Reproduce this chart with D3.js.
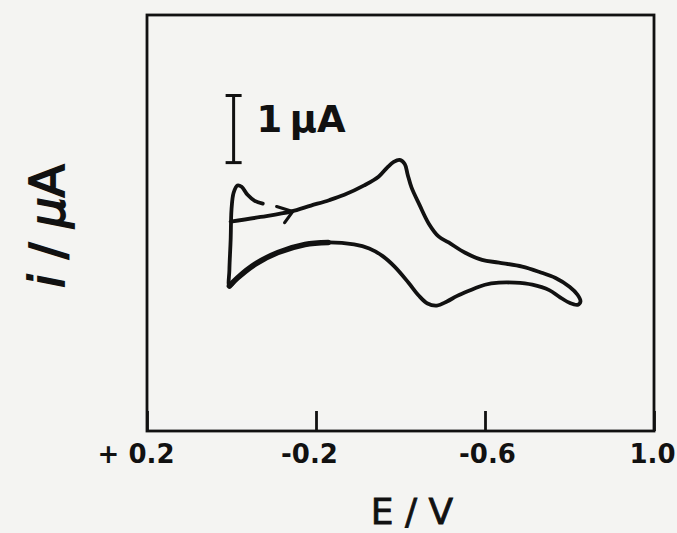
<!DOCTYPE html>
<html>
<head>
<meta charset="utf-8">
<script src="https://cdn.jsdelivr.net/npm/d3@7"></script>
<style>
  html, body { margin: 0; padding: 0; background: #f4f4f2; }
  svg { display: block; }
</style>
</head>
<body>
<div id="chart"></div>
<script>
// potential (V) and current (uA, offset arbitrary)
const potential = [
  0.002, -0.069, -0.140, -0.188, -0.231, -0.267, -0.314, -0.348, -0.369, -0.384,
  -0.398, -0.410, -0.417, -0.426, -0.445, -0.467, -0.490, -0.514, -0.552, -0.593,
  -0.633, -0.688, -0.729, -0.767, -0.800, -0.819, -0.826, -0.819, -0.800, -0.776,
  -0.752, -0.712, -0.671, -0.633, -0.600, -0.562, -0.533, -0.510, -0.486, -0.464,
  -0.443, -0.419, -0.386, -0.357, -0.326, -0.290, -0.229, -0.174, -0.110, -0.057,
  -0.014, 0.005, 0.005, 0.002, 0.000, -0.005, -0.014, -0.024, -0.038, -0.055, -0.074
];
const current = [
  3.12, 3.19, 3.27, 3.36, 3.44, 3.52, 3.66, 3.79, 3.93, 4.01,
  4.04, 3.98, 3.82, 3.63, 3.37, 3.09, 2.90, 2.81, 2.66, 2.55,
  2.51, 2.45, 2.37, 2.28, 2.15, 2.03, 1.93, 1.88, 1.91, 2.00,
  2.10, 2.18, 2.21, 2.21, 2.18, 2.09, 2.01, 1.93, 1.87, 1.90,
  2.02, 2.21, 2.45, 2.61, 2.72, 2.78, 2.81, 2.78, 2.66, 2.49,
  2.28, 2.16, 2.40, 2.85, 3.30, 3.55, 3.66, 3.64, 3.52, 3.43, 3.39
];
const tickValues = [0.2, -0.2, -0.6, -1.0];
const tickLabels = ["+ 0.2", "-0.2", "-0.6", "1.0"];
const xDomain = [0.2, -1.0];
const yDomain = [0, 6.2];
const scaleBar = { E: -0.005, from: 4.0, to: 5.0, label: "1\u2009\u03BCA" };

const W = 677, H = 533;
const ink = "#111";
const font = "'DejaVu Sans', sans-serif";

const svg = d3.select("#chart").append("svg")
  .attr("width", W).attr("height", H);

svg.append("rect").attr("width", W).attr("height", H).attr("fill", "#f4f4f2");

const x = d3.scaleLinear().domain(xDomain).range([147, 654]);
const y = d3.scaleLinear().domain(yDomain).range([431, 15]);

// frame
svg.append("rect")
  .attr("x", x(xDomain[0])).attr("y", y(yDomain[1]))
  .attr("width", x(xDomain[1]) - x(xDomain[0]))
  .attr("height", y(yDomain[0]) - y(yDomain[1]))
  .attr("fill", "none").attr("stroke", ink).attr("stroke-width", 2.8);

// bottom axis, ticks pointing into the box
const axis = svg.append("g")
  .attr("transform", `translate(0,${y(yDomain[0])})`)
  .call(d3.axisBottom(x).tickValues(tickValues)
    .tickFormat((d, i) => tickLabels[i])
    .tickSizeInner(-20).tickSizeOuter(0).tickPadding(0));
axis.select(".domain").remove();
axis.selectAll(".tick line").attr("stroke", ink).attr("stroke-width", 2.8);
axis.selectAll(".tick text")
  .attr("fill", ink).attr("font-family", font).attr("font-weight", "bold")
  .attr("font-size", 26).attr("y", 32).attr("dy", 0)
  .attr("text-anchor", (d, i) => i === 0 ? "end" : "middle")
  .attr("dx", (d, i) => [27, -7, 2, -2][i]);

// axis titles
svg.append("text")
  .attr("x", 412).attr("y", 524)
  .attr("text-anchor", "middle")
  .attr("font-family", font).attr("font-size", 36)
  .attr("fill", ink).attr("stroke", ink).attr("stroke-width", 0.8)
  .text("E / V");

const yl = svg.append("text")
  .attr("transform", "translate(64,226) rotate(-90)")
  .attr("text-anchor", "middle")
  .attr("font-family", font).attr("font-size", 48)
  .attr("fill", ink).attr("stroke", ink).attr("stroke-width", 1.8);
yl.append("tspan").attr("font-style", "italic").text("i");
yl.append("tspan").text(" / ");
yl.append("tspan").attr("font-style", "italic").text("\u03BC");
yl.append("tspan").text("A");

// scale bar
const sb = svg.append("g").attr("stroke", ink).attr("stroke-width", 3);
const sx = x(scaleBar.E);
sb.append("line").attr("x1", sx).attr("x2", sx)
  .attr("y1", y(scaleBar.from)).attr("y2", y(scaleBar.to));
[scaleBar.from, scaleBar.to].forEach(v => {
  sb.append("line").attr("x1", sx - 8).attr("x2", sx + 8)
    .attr("y1", y(v)).attr("y2", y(v));
});
svg.append("text")
  .attr("x", sx + 23).attr("y", y(scaleBar.from + 0.45))
  .attr("font-family", font).attr("font-weight", "bold").attr("font-size", 37)
  .attr("fill", ink)
  .text(scaleBar.label);

// voltammogram
const pts = potential.map((e, i) => [e, current[i]]);
const line = d3.line().x(d => x(d[0])).y(d => y(d[1])).curve(d3.curveCatmullRom.alpha(0.5));

svg.append("path").datum(pts)
  .attr("d", line)
  .attr("fill", "none").attr("stroke", ink).attr("stroke-width", 3.8)
  .attr("stroke-linejoin", "round").attr("stroke-linecap", "round");

// heavier pen stroke on part of the return sweep
svg.append("path").datum(pts.slice(46, 52))
  .attr("d", line)
  .attr("fill", "none").attr("stroke", ink).attr("stroke-width", 5.5)
  .attr("stroke-linecap", "round");

// scan direction arrow
const a = pts[2];
const ax = x(a[0]) + 2, ay = y(a[1]);
svg.append("path")
  .attr("d", `M${ax - 16},${ay - 5} L${ax},${ay} L${ax - 8},${ay + 11}`)
  .attr("fill", "none").attr("stroke", ink).attr("stroke-width", 3.2)
  .attr("stroke-linejoin", "round").attr("stroke-linecap", "round");
</script>
</body>
</html>
